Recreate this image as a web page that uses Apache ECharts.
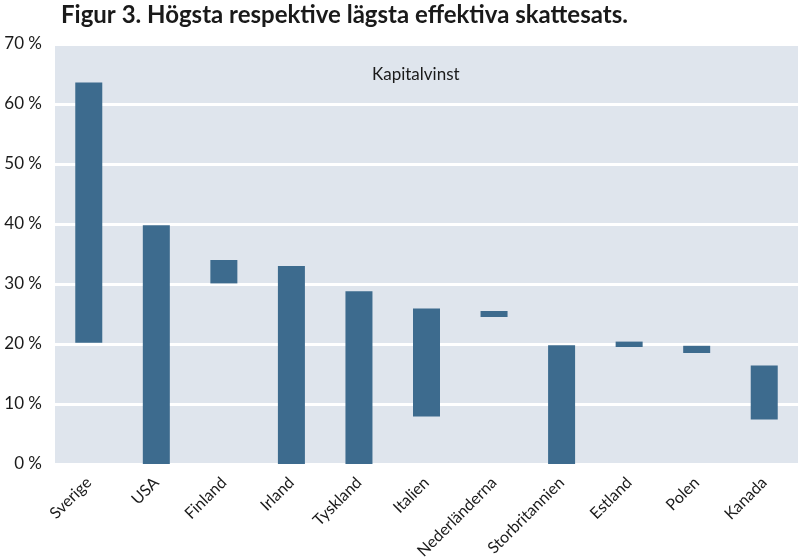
<!DOCTYPE html>
<html><head><meta charset="utf-8">
<script src="https://cdn.jsdelivr.net/npm/echarts@6/dist/echarts.min.js"></script>
<style>html,body{margin:0;padding:0;background:#fff}#c{width:807px;height:560px}</style>
</head><body><div id="c"></div>
<script>
const categories = ['Sverige','USA','Finland','Irland','Tyskland','Italien','Nederländerna','Storbritannien','Estland','Polen','Kanada'];
const lowest  = [20.2, 0, 30.1, 0, 0, 7.9, 24.5, 0, 19.5, 18.5, 7.4];
const highest = [63.6, 39.8, 34.0, 33.0, 28.8, 25.9, 25.5, 19.8, 20.4, 19.7, 16.4];
const yTicks = [0,10,20,30,40,50,60,70];
const titleText = 'Figur 3. Högsta respektive lägsta effektiva skattesats.';
const panelLabel = 'Kapitalvinst';

const span = highest.map((h,i)=> +(h - lowest[i]).toFixed(2));
const chart = echarts.init(document.getElementById('c'), null, {renderer:'canvas'});
chart.setOption({
  animation:false,
  title:{text:titleText, left:56, top:-2,
    textStyle:{fontFamily:'Lato', fontWeight:'bold', fontSize:24, color:'#1a1a1a'}},
  grid:{left:55, right:9, top:44, bottom:96, show:true, backgroundColor:'#dfe5ed', borderWidth:0,
    containLabel:false, outerBoundsMode:'none'},
  graphic:[{type:'text', left:372, top:66, style:{text:panelLabel, font:'17px Lato', fill:'#1a1a1a'}}],
  xAxis:{type:'category', data:categories,
    axisLine:{show:false}, axisTick:{show:false},
    axisLabel:{rotate:45, interval:0, margin:16, fontFamily:'Lato', fontSize:16, color:'#1a1a1a'}},
  yAxis:{type:'value', min:0, max:70, interval:10,
    axisLine:{show:false}, axisTick:{show:false},
    splitLine:{lineStyle:{color:'#ffffff', width:3}},
    axisLabel:{margin:13, fontFamily:'Lato', fontSize:17, color:'#1a1a1a',
      formatter:v=> yTicks.includes(v) ? v + ' %' : ''}},
  series:[
    {type:'bar', stack:'r', data:lowest, barWidth:27, itemStyle:{color:'transparent'}, silent:true},
    {type:'bar', stack:'r', data:span, barWidth:27, itemStyle:{color:'#3d6b8e'}}
  ]
});
</script></body></html>
